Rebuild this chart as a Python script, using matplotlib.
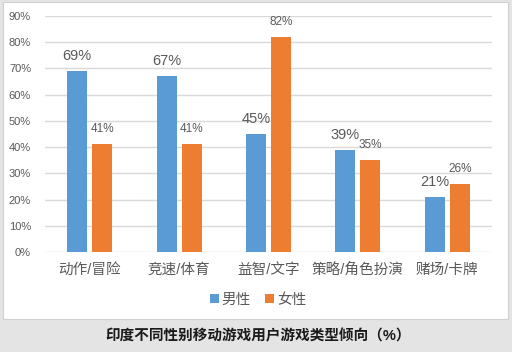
import matplotlib
matplotlib.use("Agg")
import matplotlib.pyplot as plt
from matplotlib.patches import Rectangle
import numpy as np

plt.rcParams["font.family"] = ["Liberation Sans", "Noto Sans CJK SC", "DejaVu Sans"]

# data
categories = ["动作/冒险", "竞速/体育", "益智/文字", "策略/角色扮演", "赌场/卡牌"]
male = [0.69, 0.67, 0.45, 0.39, 0.21]
female = [0.41, 0.41, 0.82, 0.35, 0.26]
yticks = [0, 0.1, 0.2, 0.3, 0.4, 0.5, 0.6, 0.7, 0.8, 0.9]
title = "印度不同性别移动游戏用户游戏类型倾向（%）"

BLUE = "#5b9bd5"
ORANGE = "#ed7d31"
TXT = "#595959"

fig = plt.figure(figsize=(5.12, 3.52), dpi=100, facecolor="#e4e4e4")

# white chart panel (behind the axes)
fig.patches.append(Rectangle((3 / 512, 1 - 319 / 352), 505 / 512, 317 / 352,
                             transform=fig.transFigure, facecolor="white",
                             edgecolor="#d0d0d0", lw=0.8, zorder=-10))

ax = fig.add_axes([45 / 512, 1 - 252 / 352, 447 / 512, 236 / 352])
ax.set_facecolor("none")

x = np.arange(len(categories))
w = 0.224
off = 0.14
b1 = ax.bar(x - off, male, w, color=BLUE, label="男性", zorder=3)
b2 = ax.bar(x + off, female, w, color=ORANGE, label="女性", zorder=3)

for xi, v in zip(x, male):
    ax.text(xi - off, v + 0.03, f"{v * 100:.0f}%", ha="center", va="bottom",
            fontsize=10.5, color=TXT)
for xi, v in zip(x, female):
    ax.text(xi + off, v + 0.035, f"{v * 100:.0f}%", ha="center", va="bottom",
            fontsize=8.5, color=TXT)

ax.set_xlim(-0.5, len(categories) - 0.5)
ax.set_ylim(0, 0.9)
ax.set_yticks(yticks)
ax.set_yticklabels([f"{t * 100:.0f}%" for t in yticks], fontsize=8, color=TXT)
ax.set_xticks(x)
ax.set_xticklabels(categories, fontsize=10.5, color=TXT)
ax.tick_params(length=0, pad=8)
ax.tick_params(axis="y", pad=10)
ax.yaxis.grid(True, color="#d9d9d9", lw=1, zorder=0)
for s in ax.spines.values():
    s.set_visible(False)

fig.legend(handles=[b1, b2], loc="center", bbox_to_anchor=(258 / 512, 1 - 300 / 352),
           ncol=2, frameon=False, fontsize=10.5, handlelength=0.6, handleheight=0.6,
           handletextpad=0.2, columnspacing=1.0, labelcolor=TXT)

fig.text(258 / 512, 1 - 336 / 352, title, ha="center", va="center",
         fontsize=10.5, fontweight="bold", color="#1a1a1a")

fig.savefig("out.png", dpi=100, facecolor=fig.get_facecolor())
